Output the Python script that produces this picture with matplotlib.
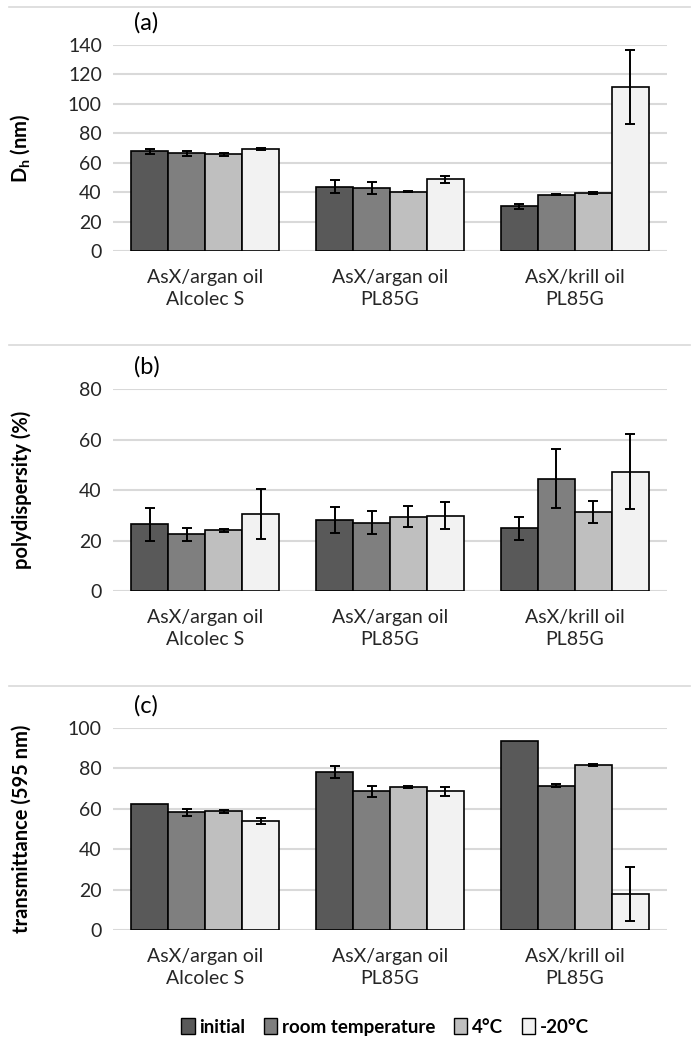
import numpy as np
import matplotlib
matplotlib.use('Agg')
import matplotlib.pyplot as plt
from matplotlib.lines import Line2D
from matplotlib.patches import Patch

plt.rcParams['font.family'] = ['Lato', 'DejaVu Sans']
plt.rcParams['mathtext.fontset'] = 'custom'
plt.rcParams['mathtext.rm'] = 'Lato'
plt.rcParams['mathtext.bf'] = 'Lato:bold'

# Categories and series
categories = ['AsX/argan oil\nAlcolec S', 'AsX/argan oil\nPL85G', 'AsX/krill oil\nPL85G']
series = ['initial', 'room temperature', '4°C', '-20°C']
colors = ['#595959', '#7f7f7f', '#bfbfbf', '#f2f2f2']

# (a) hydrodynamic diameter, nm
dh_vals = [[67.7, 43.8, 30.3],
           [66.6, 42.9, 38.3],
           [65.6, 40.4, 39.5],
           [69.3, 48.7, 111.3]]
dh_err = [[1.7, 4.2, 1.8],
          [1.7, 4.3, 0.5],
          [1.0, 0.5, 0.6],
          [0.5, 2.2, 25.0]]

# (b) polydispersity, %
pd_vals = [[26.4, 28.0, 24.8],
           [22.4, 27.1, 44.5],
           [24.0, 29.4, 31.4],
           [30.4, 29.8, 47.3]]
pd_err = [[6.6, 5.1, 4.5],
          [2.5, 4.6, 11.7],
          [0.5, 4.2, 4.3],
          [9.8, 5.3, 14.8]]

# (c) transmittance at 595 nm (no error bar shown where 0)
tr_vals = [[62.3, 78.2, 93.7],
           [58.2, 68.6, 71.4],
           [58.7, 70.6, 81.8],
           [54.0, 68.6, 17.9]]
tr_err = [[0.0, 3.0, 0.0],
          [1.7, 2.7, 0.7],
          [0.7, 0.5, 0.6],
          [1.5, 2.4, 13.2]]

W, H = 696, 1045
fig = plt.figure(figsize=(W / 100, H / 100), dpi=100)

panels = [
    (dh_vals, dh_err, 140, 20, r'$\mathbf{D_h}$ (nm)', '(a)', 251, 45),
    (pd_vals, pd_err, 80, 20, 'polydispersity (%)', '(b)', 591, 389),
    (tr_vals, tr_err, 100, 20, 'transmittance (595 nm)', '(c)', 930, 728),
]

left_px, right_px = 113, 667
x = np.arange(len(categories))
bw = 0.2

for vals, errs, ymax, step, ylab, tag, y0_px, ytop_px in panels:
    ax = fig.add_axes([left_px / W, 1 - y0_px / H,
                       (right_px - left_px) / W, (y0_px - ytop_px) / H])
    for i in range(len(series)):
        xi = x + (i - 1.5) * bw
        ax.bar(xi, vals[i], bw, color=colors[i],
               edgecolor='black', linewidth=1.2, zorder=3)
        e = np.array(errs[i])
        m = e > 0
        ax.errorbar(xi[m], np.array(vals[i])[m], yerr=e[m], fmt='none',
                    ecolor='black', elinewidth=1.4, capsize=3.5, capthick=1.4,
                    zorder=4)
    ax.set_xlim(-0.5, len(categories) - 0.5)
    ax.set_ylim(0, ymax)
    ax.set_yticks(np.arange(0, ymax + 1, step))
    ax.yaxis.grid(True, color='#d9d9d9', linewidth=1.5, zorder=0)
    ax.set_axisbelow(True)
    for s in ax.spines.values():
        s.set_visible(False)
    ax.tick_params(axis='both', length=0, labelsize=14, colors='#262626')
    ax.tick_params(axis='y', pad=8)
    ax.tick_params(axis='x', pad=13)
    ax.set_xticks(x)
    ax.set_xticklabels(categories, linespacing=1.35)
    ax.set_ylabel(ylab, fontsize=14.5, fontweight='bold', color='black')
    ax.yaxis.set_label_coords(-0.146, 0.5)
    fig.text(134 / W, 1 - (y0_px - (y0_px - ytop_px) * 1.11) / H, tag,
             fontsize=17, va='center', ha='left')

# light separator lines between panels
for ypx in [7, 345, 686]:
    fig.add_artist(Line2D([9 / W, 690 / W], [1 - ypx / H, 1 - ypx / H],
                          color='#d9d9d9', linewidth=1.2))

handles = [Patch(facecolor=c, edgecolor='black', linewidth=1.0) for c in colors]
fig.legend(handles, series, loc='center', bbox_to_anchor=(385 / W, 1 - 1027 / H),
           ncol=4, frameon=False, handlelength=0.7, handleheight=0.9,
           handletextpad=0.25, columnspacing=1.0,
           prop={'weight': 'bold', 'size': 13.5})

fig.savefig('out.png', dpi=100)
